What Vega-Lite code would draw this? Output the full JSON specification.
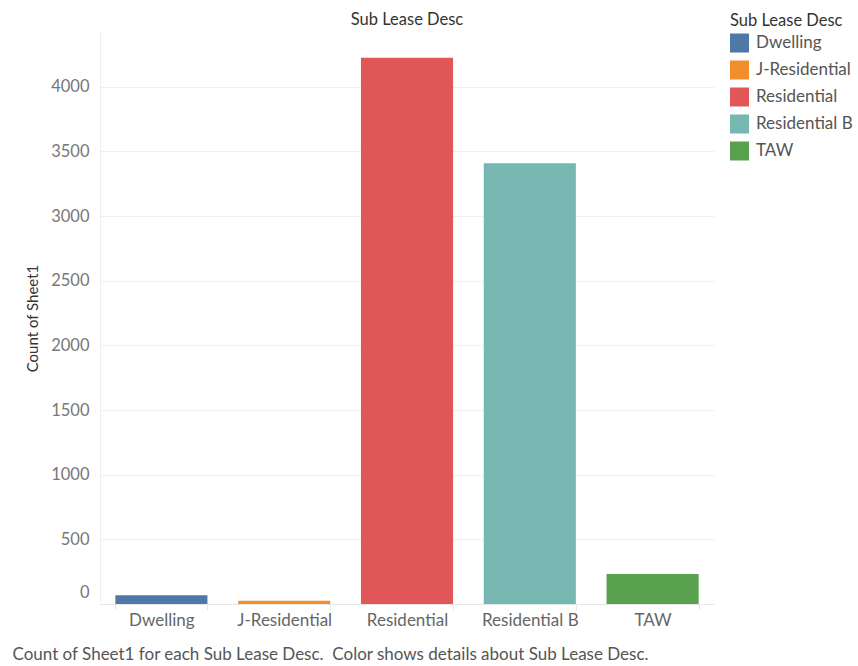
{
  "$schema": "https://vega.github.io/schema/vega-lite/v6.json",
  "width": 614,
  "height": 572,
  "autosize": "none",
  "padding": {"left": 100, "top": 32, "right": 144, "bottom": 62},
  "background": "white",
  "config": {
    "font": "Lato",
    "view": {"stroke": null}
  },
  "title": {
    "text": "Sub Lease Desc",
    "anchor": "middle",
    "frame": "group",
    "fontSize": 16.5,
    "fontWeight": "normal",
    "color": "#333333",
    "offset": -15
  },
  "data": {
    "values": [
      {"desc": "Dwelling", "count": 67},
      {"desc": "J-Residential", "count": 25},
      {"desc": "Residential", "count": 4224},
      {"desc": "Residential B", "count": 3408},
      {"desc": "TAW", "count": 232}
    ]
  },
  "mark": {"type": "bar"},
  "encoding": {
    "x": {
      "field": "desc",
      "type": "nominal",
      "sort": null,
      "scale": {"paddingInner": 0.25, "paddingOuter": 0.125},
      "axis": {
        "title": "Count of Sheet1 for each Sub Lease Desc.\u00a0 Color shows details about Sub Lease Desc.",
        "titleAnchor": "start",
        "titleAlign": "left",
        "titleX": -88,
        "titleY": 50,
        "titleBaseline": "middle",
        "titleFontSize": 17,
        "titleFontWeight": "normal",
        "titleColor": "#555555",
        "labelAngle": 0,
        "labelFontSize": 17,
        "labelColor": "#666666",
        "labelPadding": 2,
        "tickBand": "extent",
        "tickColor": "#e6e6e6",
        "tickSize": 6,
        "domainColor": "#e6e6e6",
        "grid": false
      }
    },
    "y": {
      "field": "count",
      "type": "quantitative",
      "scale": {"domain": [0, 4423], "nice": false},
      "axis": {
        "title": "Count of Sheet1",
        "values": [0, 500, 1000, 1500, 2000, 2500, 3000, 3500, 4000],
        "format": "d",
        "titleX": -68,
        "titleY": 286,
        "titleAngle": -90,
        "titleAlign": "center",
        "titleBaseline": "middle",
        "titleFontSize": 15,
        "titleFontWeight": "normal",
        "titleColor": "#333333",
        "labelFontSize": 16.5,
        "labelColor": "#777777",
        "labelPadding": 11,
        "labelFlush": true,
        "labelFlushOffset": -4,
        "ticks": false,
        "domainColor": "#eeeeee",
        "gridColor": "#f0f0f0",
        "gridWidth": 1
      }
    },
    "color": {
      "field": "desc",
      "type": "nominal",
      "scale": {
        "domain": ["Dwelling", "J-Residential", "Residential", "Residential B", "TAW"],
        "range": ["#4e79a7", "#f28e2b", "#e15759", "#76b7b2", "#59a14f"]
      },
      "legend": {
        "title": "Sub Lease Desc",
        "orient": "none",
        "legendX": 630,
        "legendY": -19,
        "padding": 0,
        "titleFontSize": 16.5,
        "titleFontWeight": "normal",
        "titleColor": "#333333",
        "titlePadding": 4,
        "symbolType": "square",
        "symbolSize": 361,
        "symbolStrokeWidth": 0,
        "symbolOpacity": 1,
        "labelFontSize": 17,
        "labelColor": "#555555",
        "labelOffset": 7,
        "rowPadding": 8
      }
    }
  }
}
